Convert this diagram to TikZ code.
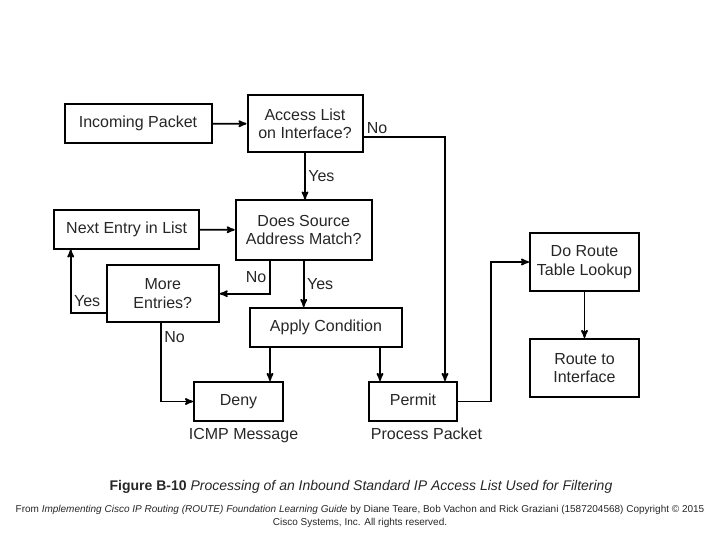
\documentclass[tikz,border=0pt]{standalone}
\usepackage{fontspec}
\setmainfont{Liberation Sans}
\usetikzlibrary{arrows,positioning}

\begin{document}
\begin{tikzpicture}[x=1pt,y=-1pt,->,>=stealth',line width=1.7pt,auto,
  box node/.style={rectangle,draw,line width=2pt,align=center,inner sep=2pt,
    font=\fontsize{16}{18.5}\selectfont,text=black!85},
  one line/.style={text height=11.5pt,text depth=3.5pt},
  tag/.style={font=\fontsize{16}{18.5}\selectfont,text=black!85,inner sep=2.5pt}]

 \useasboundingbox (0,0) rectangle (720,540);

 \node[box node,one line,minimum width=147pt,minimum height=39pt] (inc) at (138,123.8) {Incoming Packet};
 \node[box node,minimum width=115pt,minimum height=57pt] (acl) at (305,123.7) {Access List\\on Interface?};
 \node[box node,one line,minimum width=145pt,minimum height=38pt] (nxt) at (126.7,229.5) {Next Entry in List};
 \node[box node,minimum width=136pt,minimum height=59pt] (src) at (303.7,230) {Does Source\\Address Match?};
 \node[box node,minimum width=112pt,minimum height=57pt] (more) at (162.8,293.7) {More\\Entries?};
 \node[box node,one line,minimum width=152pt,minimum height=39pt] (app) at (326,327.5) {Apply Condition};
 \node[box node,one line,minimum width=89pt,minimum height=39pt] (deny) at (238.5,401.5) {Deny};
 \node[box node,one line,minimum width=88pt,minimum height=39pt] (per) at (413,401.5) {Permit};
 \node[box node,minimum width=109pt,minimum height=58pt] (dor) at (584.5,262) {Do Route\\Table Lookup};
 \node[box node,minimum width=109pt,minimum height=58pt] (rti) at (584.5,368) {Route to\\Interface};

 \node[tag,anchor=base] (icmp) at (243.5,439) {ICMP Message};
 \node[tag,anchor=base] (proc) at (426.5,439) {Process Packet};

 \path
    (inc)	edge node {} (acl)
    (acl.south)	edge node[tag,right] {Yes} (acl.south |- src.north)
    (nxt)	edge node {} (src)
    (src.south)	edge node[tag,right] {Yes} (src.south |- app.north)
    ([xshift=-56pt]app.south)	edge node {} ([xshift=-56pt]app.south |- deny.north)
    ([xshift=54pt]app.south)	edge node {} ([xshift=54pt]app.south |- per.north)
    (dor)	edge node {} (rti);

 \draw ([yshift=-13pt]acl.east) node[tag,above right,->] {No} -| ([xshift=32pt]per.north);
 \draw ([xshift=-34pt]src.south) |- node[tag,pos=0.25,left] {No} (more.east);
 \draw ([yshift=-19pt]more.west) -| node[tag,pos=0.59,right] {Yes} ([xshift=-56pt]nxt.south);
 \draw ([xshift=-1.8pt]more.south) |- node[tag,pos=0.09,right] {No} (deny.west);
 \draw (per.east) -- ++(33,0) |- (dor.west);

 \node[font=\fontsize{14}{16}\selectfont,text=black!85] (cap) at (361,487)
   {\textbf{Figure B-10} \textit{Processing of an Inbound Standard IP Access List Used for Filtering}};
 \node[font=\fontsize{10}{13}\selectfont,text=black!85,align=center] (src note) at (360,516.5)
   {From \textit{Implementing Cisco IP Routing (ROUTE) Foundation Learning Guide} by Diane Teare, Bob Vachon and Rick Graziani (1587204568) Copyright © 2015\\Cisco Systems, Inc. All rights reserved.};
\end{tikzpicture}
\end{document}
